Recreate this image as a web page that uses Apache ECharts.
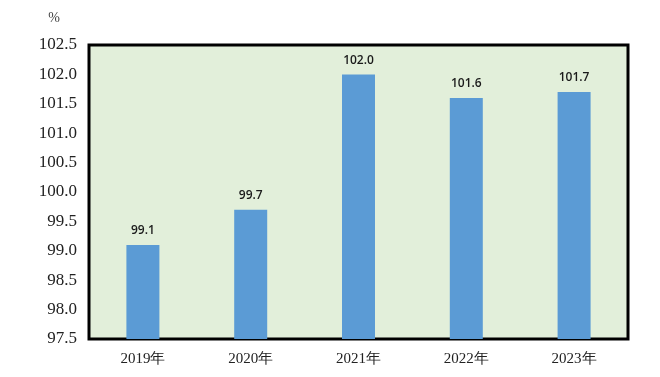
<!DOCTYPE html>
<html>
<head>
<meta charset="utf-8">
<script src="https://cdn.jsdelivr.net/npm/echarts@6/dist/echarts.min.js"></script>
<style>
  html, body { margin: 0; padding: 0; background: #fff; }
  #main { width: 660px; height: 377px; }
</style>
</head>
<body>
<div id="main"></div>
<script>
// 年份与指数（上年=100）
var years = ['2019年', '2020年', '2021年', '2022年', '2023年'];
var values = [99.1, 99.7, 102.0, 101.6, 101.7];
var yMin = 97.5;
var yMax = 102.5;
var yStep = 0.5;

var serifFont = 'Liberation Serif';

var chart = echarts.init(document.getElementById('main'));

var option = {
  animation: false,
  grid: {
    show: true,
    left: 89,
    right: 32,
    top: 45,
    bottom: 38,
    backgroundColor: '#e2efda',
    borderColor: '#000',
    borderWidth: 3
  },
  xAxis: {
    type: 'category',
    data: years,
    axisLine: { show: false },
    axisTick: { show: false },
    axisLabel: {
      margin: 13,
      color: '#222',
      fontFamily: serifFont,
      fontSize: 15
    }
  },
  yAxis: {
    type: 'value',
    min: yMin,
    max: yMax,
    interval: yStep,
    name: '%',
    nameLocation: 'end',
    nameGap: 20,
    nameTextStyle: {
      color: '#444',
      fontFamily: serifFont,
      fontSize: 14,
      align: 'right',
      padding: [0, 29, 0, 0]
    },
    splitLine: { show: false },
    axisLine: { show: false },
    axisTick: { show: false },
    axisLabel: {
      margin: 12,
      color: '#222',
      fontFamily: serifFont,
      fontSize: 17,
      formatter: function (v) {
        return v.toFixed(1);
      }
    }
  },
  series: [{
    type: 'bar',
    data: values,
    barWidth: 33,
    itemStyle: { color: '#5b9bd5' },
    label: {
      show: true,
      position: 'top',
      distance: 8,
      color: '#1a1a1a',
      fontFamily: 'Open Sans',
      fontSize: 12,
      fontWeight: 600,
      formatter: function (p) {
        return p.value.toFixed(1);
      }
    }
  }]
};

chart.setOption(option);
</script>
</body>
</html>
